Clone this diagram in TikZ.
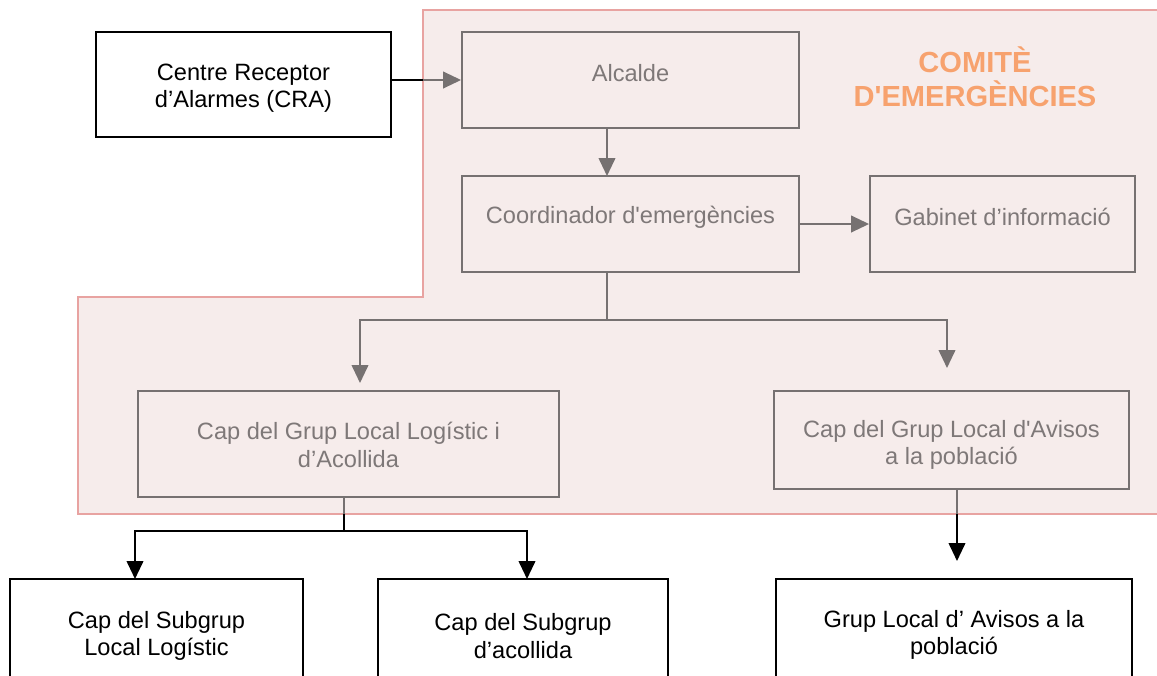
\documentclass[tikz,border=0pt]{standalone}
\usepackage{fontspec}
\setmainfont{Liberation Sans}
\usetikzlibrary{arrows.meta}
\definecolor{pinkfill}{HTML}{F6ECEB}
\definecolor{pinkline}{HTML}{E8A3A1}
\definecolor{boxgray}{HTML}{767171}
\definecolor{txtgray}{HTML}{7E7878}
\definecolor{titleorange}{HTML}{F7A26E}
\newcommand{\sq}{\textquotesingle}
\tikzset{
  bw/.style={minimum width=#1*0.75pt},
  bh/.style={minimum height=#1*0.75pt},
  graybox/.style={draw=boxgray, line width=1.4pt, rectangle, inner sep=0pt},
  blackbox/.style={draw=black, line width=1.4pt, rectangle, fill=white, inner sep=0pt},
  graytext/.style={text=txtgray, align=center, inner sep=0pt, font=\fontsize{17.7}{20.5}\selectfont},
  blacktext/.style={text=black, align=center, inner sep=0pt, font=\fontsize{17.7}{20.5}\selectfont},
  grayconn/.style={draw=boxgray, line width=1.4pt},
  grayarrow/.style={grayconn, -{Triangle[length=13.5pt,width=12.5pt]}},
  blackconn/.style={draw=black, line width=1.4pt},
  blackarrow/.style={blackconn, -{Triangle[length=13.5pt,width=12.5pt]}},
  titletext/.style={text=titleorange, align=center, inner sep=0pt,
    font=\fontsize{21.8}{25.5}\selectfont\bfseries}
}
\begin{document}
\begin{tikzpicture}[x=0.75pt, y=-0.75pt]
\useasboundingbox (0,0) rectangle (1157,675);
\clip (0,0) rectangle (1157,675);
% committee region
\draw[draw=pinkline, fill=pinkfill, line width=1.4pt]
  (1170,10) -- (423,10) -- (423,297) -- (78,297) -- (78,514) -- (1170,514);
\node[titletext] (title) at (975,77) {COMITÈ\\D\sq EMERGÈNCIES};

% boxes
\node[blackbox, bw=295, bh=105] (cra) at (243.5,84.5) {};
\node[blacktext] (crat) at (243.5,88) {Centre Receptor\\d’Alarmes (CRA)};

\node[graybox, bw=337, bh=96] (alc) at (630.5,80) {};
\node[graytext] (alct) at (630.5,73) {Alcalde};

\node[graybox, bw=337, bh=96] (coord) at (630.5,224) {};
\node[graytext] (coordt) at (630.5,217) {Coordinador d\sq emergències};

\node[graybox, bw=265, bh=96] (gab) at (1002.5,224) {};
\node[graytext] (gabt) at (1002.5,217) {Gabinet d’informació};

\node[graybox, bw=421, bh=106] (caplog) at (348.5,444) {};
\node[graytext] (caplogt) at (348.5,445) {Cap del Grup Local Logístic i\\d’Acollida};

\node[graybox, bw=355, bh=98] (capav) at (951.5,440) {};
\node[graytext] (capavt) at (951.5,445) {Cap del Grup Local d\sq Avisos\\a la població};

\node[blackbox, bw=293, bh=120] (sub1) at (156.5,639) {};
\node[blacktext] (sub1t) at (156.5,636) {Cap del Subgrup\\Local Logístic};

\node[blackbox, bw=290, bh=120] (sub2) at (523,639) {};
\node[blacktext] (sub2t) at (523,636) {Cap del Subgrup\\d’acollida};

\node[blackbox, bw=356, bh=120] (grup) at (954,639) {};
\node[blacktext] (grupt) at (954,635) {Grup Local d’ Avisos a la\\població};

% connectors
\coordinate (x1) at (423,80);
\draw[blackconn] (cra.east |- x1) -- (x1);
\draw[grayarrow] (x1) -- (alc.west);

\coordinate (a1) at (607,128);
\coordinate (a2) at (607,176);
\draw[grayarrow] (a1) -- (a2);

\draw[grayarrow] (coord.east) -- (gab.west);

\coordinate (c1) at (607,272);
\coordinate (c2) at (607,320);
\coordinate (c3) at (360,383);
\coordinate (c4) at (947,368);
\draw[grayconn] (c1) -- (c2);
\draw[grayarrow] (c2) -| (c3);
\draw[grayarrow] (c2) -| (c4);

\coordinate (l1) at (344,497);
\coordinate (l2) at (344,514);
\coordinate (l3) at (344,531);
\coordinate (s1) at (135,579);
\coordinate (s2) at (527,579);
\draw[grayconn] (l1) -- (l2);
\draw[blackconn] (l2) -- (l3);
\draw[blackarrow] (l3) -| (s1);
\draw[blackarrow] (l3) -| (s2);

\coordinate (r1) at (957,489);
\coordinate (r2) at (957,514);
\coordinate (r3) at (957,561);
\draw[grayconn] (r1) -- (r2);
\draw[blackarrow] (r2) -- (r3);
\end{tikzpicture}
\end{document}
